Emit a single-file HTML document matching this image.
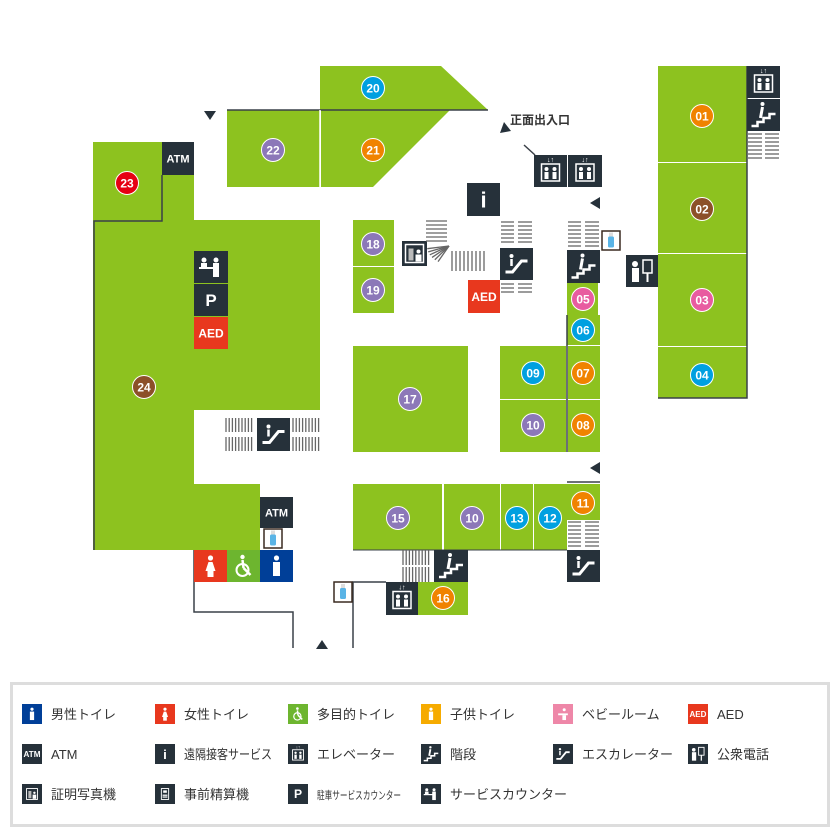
<!DOCTYPE html>
<html><head><meta charset="utf-8"><style>
body{margin:0;background:#fff;width:840px;height:830px;overflow:hidden}
svg{display:block}
text{font-family:"Liberation Sans","Noto Sans CJK JP",sans-serif}
</style></head><body>
<svg id="s" width="840" height="830" viewBox="0 0 840 830" xmlns="http://www.w3.org/2000/svg">
<g fill="#8dc21f">
<polygon points="93,142 162,142 162,175 194,175 194,220 320,220 320,410 194,410 194,550 93,550"/>
<polygon points="320,66 441,66 488,110 320,110"/>
<rect x="227" y="110" width="93" height="77"/>
<polygon points="321,110 450,110 373,187 321,187"/>
<rect x="353" y="220" width="41" height="46"/><rect x="353" y="267" width="41" height="46"/>
<rect x="658" y="66" width="89" height="96"/><rect x="658" y="163" width="89" height="90"/>
<rect x="658" y="254" width="89" height="92"/><rect x="658" y="347" width="89" height="51"/>
<rect x="567" y="283" width="31" height="32"/><rect x="567" y="315" width="33" height="30"/>
<rect x="500" y="346" width="66" height="53"/><rect x="500" y="400" width="66" height="52"/>
<rect x="568" y="346" width="32" height="53"/><rect x="568" y="400" width="32" height="52"/>
<rect x="353" y="346" width="115" height="106"/>
<rect x="194" y="484" width="66" height="66"/>
<rect x="353" y="484" width="89" height="66"/><rect x="444" y="484" width="56" height="66"/>
<rect x="501" y="484" width="32" height="66"/><rect x="534" y="484" width="33" height="66"/>
<rect x="567" y="484" width="33" height="36"/>
<rect x="418" y="582" width="50" height="33"/>
</g>
<g stroke="#3a4048" stroke-width="1.5" fill="none">
<line x1="227" y1="110" x2="488" y2="110"/>
<polyline points="94,550 94,221 162,221 162,175"/>
<polyline points="747,66 747,398 658,398"/>
<line x1="567" y1="315" x2="567" y2="452"/>
<polyline points="567,482 600,482"/>
<polyline points="194,550 194,612 293,612 293,648"/>
<polyline points="386,582 353,582 353,648"/>
<line x1="524" y1="145" x2="535" y2="155"/>
<line x1="353" y1="550" x2="567" y2="550" stroke-width="1"/>
</g>
<g stroke="#fff" stroke-width="1.5">
<line x1="320" y1="110" x2="320" y2="187"/>
</g>
<g fill="#26313a">
<polygon points="204,111 216,111 210,120"/>
<polygon points="500,133 511,131 504,122"/>
<polygon points="590,203 600,197 600,209"/>
<polygon points="590,468 600,462 600,474"/>
<polygon points="316,649 328,649 322,640"/>
</g>
<text x="510" y="124" font-size="12" font-weight="bold" fill="#333">正面出入口</text>
<g id="icons"></g><g id="lines" stroke="#666" stroke-width="1.3"></g><g id="circ"></g>
<rect x="11.5" y="683.5" width="817" height="142" fill="none" stroke="#ddd" stroke-width="3"/>
<g id="leg"></g>
</svg>
<script>
const NS="http://www.w3.org/2000/svg";
function mk(parent,t,a,txt){const e=document.createElementNS(NS,t);for(const k in a)e.setAttribute(k,a[k]);if(txt!=null)e.textContent=txt;parent.appendChild(e);return e;}
function el(p,t,a,txt){return mk(document.getElementById(p),t,a,txt);}
const D="#26313a";
const IC=()=>document.getElementById("icons");
function box(x,y,w,h,c,label,fs){el("icons","rect",{x,y,width:w,height:h,fill:c||D});if(label)el("icons","text",{x:x+w/2,y:y+h/2+fs*0.36,"font-size":fs,"font-weight":"bold",fill:"#fff","text-anchor":"middle"},label);}
function glyph(g,x,y,w,h,kind){
 const cx=x+w/2,cy=y+h/2,W="#fff";
 if(kind=="elev"){mk(g,"rect",{x:cx-9,y:cy-7,width:18,height:17,fill:"none",stroke:W,"stroke-width":1.5});mk(g,"circle",{cx:cx-4,cy:cy-2,r:2,fill:W});mk(g,"circle",{cx:cx+4,cy:cy-2,r:2,fill:W});mk(g,"rect",{x:cx-6,y:cy+1,width:4,height:7,fill:W});mk(g,"rect",{x:cx+2,y:cy+1,width:4,height:7,fill:W});mk(g,"text",{x:cx,y:cy-9,"font-size":7,fill:W,"text-anchor":"middle"},"↓↑");}
 if(kind=="stairs"){mk(g,"polyline",{points:`${cx-12},${cy+11} ${cx-6},${cy+11} ${cx-6},${cy+7} ${cx},${cy+7} ${cx},${cy+3} ${cx+6},${cy+3} ${cx+6},${cy-1} ${cx+12},${cy-1}`,fill:"none",stroke:W,"stroke-width":2.5});mk(g,"circle",{cx:cx-1,cy:cy-11,r:2,fill:W});mk(g,"line",{x1:cx-1,y1:cy-8,x2:cx-3,y2:cy+3,stroke:W,"stroke-width":3});}
 if(kind=="esc"){mk(g,"path",{d:`M${cx-11},${cy+8} L${cx-4},${cy+8} L${cx+5},${cy-3} L${cx+11},${cy-3}`,fill:"none",stroke:W,"stroke-width":3});mk(g,"circle",{cx:cx-5,cy:cy-8,r:2,fill:W});mk(g,"line",{x1:cx-5,y1:cy-5,x2:cx-5,y2:cy+2,stroke:W,"stroke-width":2.5});}
 if(kind=="svc"){mk(g,"rect",{x:cx-12,y:cy,width:18,height:2,fill:W});mk(g,"circle",{cx:cx-7,cy:cy-7,r:2.5,fill:W});mk(g,"circle",{cx:cx+5,cy:cy-7,r:2.5,fill:W});mk(g,"rect",{x:cx+2,y:cy-4,width:6,height:14,fill:W});mk(g,"rect",{x:cx-10,y:cy-4,width:6,height:4,fill:W});}
 if(kind=="phone"){mk(g,"circle",{cx:cx-7,cy:cy-7,r:3,fill:W});mk(g,"rect",{x:cx-10,y:cy-3,width:7,height:14,fill:W});mk(g,"rect",{x:cx+1,y:cy-11,width:9,height:13,fill:"none",stroke:W,"stroke-width":1.5});mk(g,"rect",{x:cx+4.5,y:cy+2,width:2,height:9,fill:W});}
 if(kind=="photo"){mk(g,"rect",{x:cx-9,y:cy-9,width:18,height:18,fill:"none",stroke:W,"stroke-width":1.5});mk(g,"rect",{x:cx-6,y:cy-5,width:5,height:12,fill:"#bbb"});mk(g,"circle",{cx:cx+4,cy:cy-2,r:2,fill:W});mk(g,"rect",{x:cx+1,y:cy+1,width:6,height:7,fill:W});}
 if(kind=="pay"){mk(g,"rect",{x:cx-6,y:cy-9,width:12,height:18,fill:"none",stroke:W,"stroke-width":1.5});mk(g,"rect",{x:cx-3,y:cy-6,width:6,height:4,fill:W});mk(g,"rect",{x:cx-4,y:cy+1,width:8,height:2,fill:W});mk(g,"rect",{x:cx-4,y:cy+4,width:8,height:2,fill:W});}
 if(kind=="person"){mk(g,"circle",{cx,cy:cy-8,r:2.6,fill:W});mk(g,"rect",{x:cx-3.5,y:cy-4,width:7,height:14,fill:W});}
 if(kind=="woman"){mk(g,"circle",{cx,cy:cy-8,r:2.6,fill:W});mk(g,"polygon",{points:`${cx-2},${cy-4} ${cx+2},${cy-4} ${cx+5},${cy+5} ${cx-5},${cy+5}`,fill:W});mk(g,"rect",{x:cx-3,y:cy+5,width:6,height:6,fill:W});}
 if(kind=="wc"){mk(g,"circle",{cx:cx-1,cy:cy-9,r:2.2,fill:W});mk(g,"circle",{cx:cx-1,cy:cy+4,r:6,fill:"none",stroke:W,"stroke-width":2});mk(g,"line",{x1:cx-1,y1:cy-6,x2:cx,y2:cy+2,stroke:W,"stroke-width":2.5});mk(g,"line",{x1:cx,y1:cy+2,x2:cx+7,y2:cy+9,stroke:W,"stroke-width":2.5});}
 if(kind=="baby"){mk(g,"circle",{cx:cx+2,cy:cy-7,r:2.5,fill:W});mk(g,"rect",{x:cx-8,y:cy-1,width:16,height:3,fill:W});mk(g,"rect",{x:cx-1,y:cy+2,width:6,height:8,fill:W});}
 if(kind=="bottle"){mk(g,"rect",{x:x,y:y,width:w,height:h,fill:W,stroke:"#3a2a20","stroke-width":1.5});mk(g,"rect",{x:cx-3,y:cy-4,width:6,height:11,rx:1.5,fill:"#5ab4e6"});mk(g,"rect",{x:cx-2,y:cy-8,width:4,height:4,fill:"#ddd"});}
 if(kind=="i"){mk(g,"text",{x:cx,y:cy+8,"font-size":22,"font-weight":"bold",fill:W,"text-anchor":"middle"},"i");}
 if(kind=="P"){mk(g,"text",{x:cx,y:cy+7,"font-size":20,"font-weight":"bold",fill:W,"text-anchor":"middle"},"P");}
 if(kind=="ATM"){mk(g,"text",{x:cx,y:cy+5,"font-size":13,"font-weight":"bold",fill:W,"text-anchor":"middle","textLength":28,"lengthAdjust":"spacingAndGlyphs"},"ATM");}
 if(kind=="AED"){mk(g,"text",{x:cx,y:cy+5,"font-size":13,"font-weight":"bold",fill:W,"text-anchor":"middle","textLength":28,"lengthAdjust":"spacingAndGlyphs"},"AED");}
}
function ic(x,y,w,h,k,c){ if(k!="bottle")box(x,y,w,h,c);glyph(IC(),x,y,w,h,k);}
box(162,142,32,33,D,"ATM",11);
ic(194,251,34,32,"svc");box(194,284,34,32,D,"P",17);box(194,317,34,32,"#e8381e","AED",12);
ic(534,155,33,32,"elev");ic(568,155,34,32,"elev");
box(467,183,33,33,D,"i",22);
ic(500,248,33,32,"esc");box(468,280,32,33,"#e8381e","AED",12);
ic(402,241,25,25,"photo");
ic(567,250,33,33,"stairs");ic(602,231,18,19,"bottle");
ic(747,66,33,32,"elev");ic(747,99,33,32,"stairs");
ic(626,255,32,32,"phone");
ic(257,418,33,33,"esc");
box(260,497,33,31,D,"ATM",11);ic(264,529,18,19,"bottle");
ic(194,550,33,32,"woman","#e8381e");ic(227,550,33,32,"wc","#6db52f");ic(260,550,33,32,"person","#003f98");
ic(434,550,34,32,"stairs");ic(386,582,32,33,"elev");ic(334,582,18,20,"bottle");
ic(567,550,33,32,"esc");
function hl(x1,x2,y1,y2,step){for(let y=y1;y<=y2;y+=step)el("lines","line",{x1,x2,y1:y,y2:y});}
function vl(x1,x2,y1,y2,step){for(let x=x1;x<=x2;x+=step)el("lines","line",{x1:x,x2:x,y1,y2});}
hl(501,514,222,242,4);hl(518,532,222,242,4);hl(501,514,284,294,4);hl(518,532,284,294,4);
hl(568,581,222,248,4);hl(585,599,222,248,4);hl(748,762,134,161,4);hl(765,779,134,161,4);
hl(568,581,522,548,4);hl(585,599,522,548,4);
hl(426,447,221,241,4);
vl(452,484,251,271,4);
for(let i=0;i<6;i++){const a=(i/5)*0.9+0.15;el("lines","line",{x1:449,y1:246,x2:449-22*Math.cos(a),y2:246+18*Math.sin(a)});}
vl(226,254,418,432,3.2);vl(226,254,437,451,3.2);vl(293,321,418,432,3.2);vl(293,321,437,451,3.2);
vl(403,431,550,565,3.2);vl(403,431,567,582,3.2);
const P="#8c78b8",B="#00a0e0",O="#f08300",BR="#8c5028",PK="#e85ca0",R="#e60012";
[[373,88,"20",B],[273,150,"22",P],[373,150,"21",O],[127,183,"23",R],[373,244,"18",P],[373,290,"19",P],
[702,116,"01",O],[702,209,"02",BR],[702,300,"03",PK],[702,375,"04",B],[583,299,"05",PK],[583,330,"06",B],
[533,373,"09",B],[583,373,"07",O],[533,425,"10",P],[583,425,"08",O],[410,399,"17",P],[144,387,"24",BR],
[398,518,"15",P],[472,518,"10",P],[517,518,"13",B],[550,518,"12",B],[583,503,"11",O],[443,598,"16",O]
].forEach(([cx,cy,t,c])=>{el("circ","circle",{cx,cy,r:11.5,fill:c,stroke:"#fff","stroke-width":1});el("circ","text",{x:cx,y:cy+4.5,"font-size":12,"font-weight":"bold",fill:"#fff","text-anchor":"middle"},t);});
const LG=document.getElementById("leg");
function lg(x,y,k,c,txt,fs,len){
 mk(LG,"rect",{x,y,width:20,height:20,fill:c});
 const g=mk(LG,"g",{transform:`translate(${x},${y}) scale(0.606)`});
 glyph(g,0,0,33,33,k);
 const t=mk(LG,"text",{x:x+29,y:y+15,"font-size":fs||13,fill:"#333"},txt);
 if(len)t.setAttribute("textLength",len),t.setAttribute("lengthAdjust","spacingAndGlyphs");
}
const r1=704,r2=744,r3=784,C=[22,155,288,421,553,688];
lg(C[0],r1,"person","#003f98","男性トイレ");lg(C[1],r1,"woman","#e8381e","女性トイレ");
lg(C[2],r1,"wc","#6db52f","多目的トイレ");lg(C[3],r1,"person","#f6ab00","子供トイレ");
lg(C[4],r1,"baby","#ee87a8","ベビールーム");lg(C[5],r1,"AED","#e8381e","AED");
lg(C[0],r2,"ATM",D,"ATM");lg(C[1],r2,"i",D,"遠隔接客サービス",13,88);lg(C[2],r2,"elev",D,"エレベーター");
lg(C[3],r2,"stairs",D,"階段");lg(C[4],r2,"esc",D,"エスカレーター");lg(C[5],r2,"phone",D,"公衆電話");
lg(C[0],r3,"photo",D,"証明写真機");lg(C[1],r3,"pay",D,"事前精算機");lg(C[2],r3,"P",D,"駐車サービスカウンター",11,84);
lg(C[3],r3,"svc",D,"サービスカウンター");
</script>
</body></html>
